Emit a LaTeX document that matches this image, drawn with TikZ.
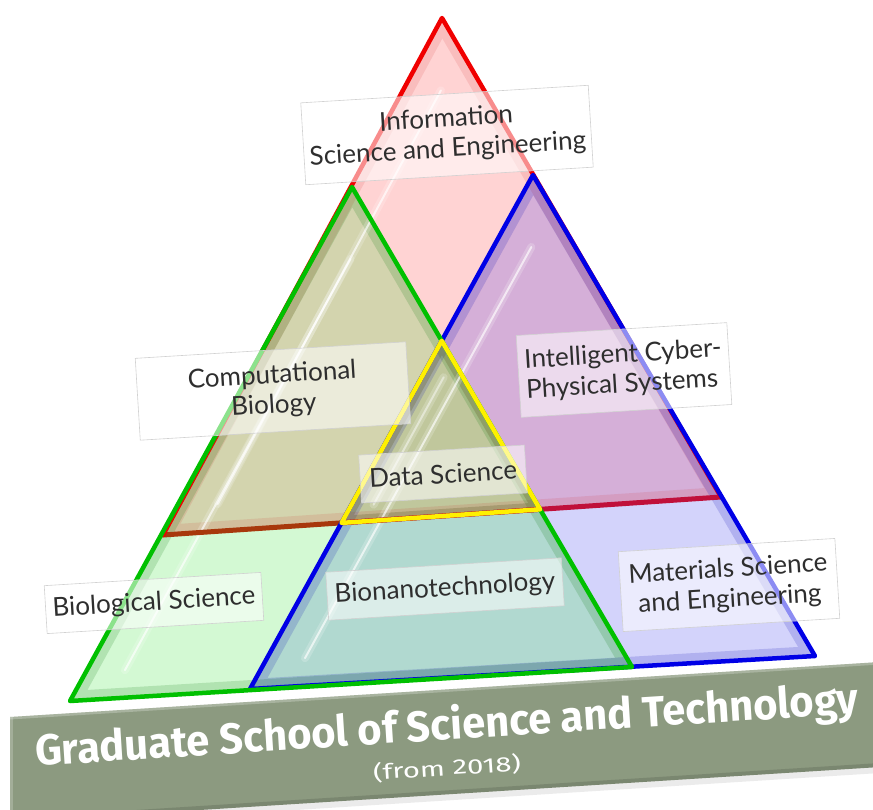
\documentclass[tikz,border=0pt]{standalone}
\usepackage{fontspec}
\setmainfont{Lato}
\newfontfamily\bannerfont{Fira Sans}
\usetikzlibrary{calc}

\definecolor{pinkR}{HTML}{FFD3D3}
\definecolor{greenG}{HTML}{D3F9D3}
\definecolor{lavB}{HTML}{D3D3FB}
\definecolor{tealGB}{HTML}{B1D9D0}
\definecolor{oliveRG}{HTML}{D3D4AE}
\definecolor{purpleRB}{HTML}{D5AFD8}
\definecolor{coreRGB}{HTML}{C0C79C}
\definecolor{edgeR}{HTML}{F00000}
\definecolor{edgeG}{HTML}{00C000}
\definecolor{edgeB}{HTML}{0000E6}
\definecolor{edgeY}{HTML}{FFF000}
\definecolor{baseRG}{HTML}{A8380C}
\definecolor{baseRB}{HTML}{C0103A}
\definecolor{bannercol}{HTML}{8C9A80}
\definecolor{labeltext}{HTML}{2E2E2E}

\begin{document}
\begin{tikzpicture}[x=1pt,y=-1pt,line join=round,line cap=round,
  lab/.style={fill=white,fill opacity=0.55,draw=black!18,line width=0.6pt,
    text opacity=1,text=labeltext,rotate=3.5,
    font=\fontsize{26}{30}\selectfont,align=center,inner sep=0pt},
  edge/.style={line width=4.5pt},
  band/.style={line width=20pt,opacity=0.16},
  gloss/.style={white,line width=2pt,opacity=0.65},
  glow/.style={white,line width=8pt,opacity=0.2},
  bannertext/.style={rotate=3.65,inner sep=0pt,text=white}]
\useasboundingbox (0,0) rectangle (873,809);

% corner points
\coordinate (R1) at (442,18);
\coordinate (R2) at (163,535);
\coordinate (R3) at (721,497);
\coordinate (G1) at (352,187);
\coordinate (G2) at (70,701);
\coordinate (G3) at (632,667);
\coordinate (B1) at (533,175);
\coordinate (B2) at (250,689);
\coordinate (B3) at (815,656);
\coordinate (Y1) at (intersection of G1--G3 and B1--B2);
\coordinate (Y2) at (intersection of B1--B2 and R2--R3);
\coordinate (Y3) at (intersection of G1--G3 and R2--R3);

% region fills
\fill[pinkR] (R1)--(R2)--(R3)--cycle;
\fill[greenG] (G1)--(G2)--(G3)--cycle;
\fill[lavB] (B1)--(B2)--(B3)--cycle;
\begin{scope}
  \clip (G1)--(G2)--(G3)--cycle;
  \fill[tealGB] (B1)--(B2)--(B3)--cycle;
\end{scope}
\begin{scope}
  \clip (R1)--(R2)--(R3)--cycle;
  \fill[oliveRG] (G1)--(G2)--(G3)--cycle;
  \fill[purpleRB] (B1)--(B2)--(B3)--cycle;
\end{scope}
\fill[coreRGB] (Y1)--(Y2)--(Y3)--cycle;

% bevel bands
\begin{scope}
  \clip (R1)--(R2)--(R3)--cycle;
  \draw[band,red!80!black,opacity=0.1] (R1)--(R2)--(R3)--cycle;
\end{scope}
\begin{scope}
  \clip (G1)--(G2)--(G3)--cycle;
  \draw[band,green!45!black] (G1)--(G2)--(G3)--cycle;
\end{scope}
\begin{scope}
  \clip (B1)--(B2)--(B3)--cycle;
  \draw[band,blue!70!black] (B1)--(B2)--(B3)--cycle;
\end{scope}
\begin{scope}
  \clip (Y1)--(Y2)--(Y3)--cycle;
  \draw[band,olive!60!black,line width=14pt,opacity=0.28] (Y1)--(Y2)--(Y3)--cycle;
\end{scope}

% glossy streaks
\foreach \A/\L in {R1/R2,G1/G2,B1/B2}{
  \draw[glow] ($(\A)!0.14!(\L)+(38,0)$) -- ($(\A)!0.94!(\L)+(38,0)$);
  \draw[gloss] ($(\A)!0.14!(\L)+(38,0)$) -- ($(\A)!0.94!(\L)+(38,0)$);
}
\draw[glow] ($(Y1)!0.2!(Y2)+(22,0)$) -- ($(Y1)!0.9!(Y2)+(22,0)$);
\draw[gloss,opacity=0.45] ($(Y1)!0.2!(Y2)+(22,0)$) -- ($(Y1)!0.9!(Y2)+(22,0)$);

% red base line (seen through green / blue)
\begin{scope}
  \clip (G1)--(G2)--(G3)--cycle;
  \draw[baseRG,edge,line width=5pt] (R2)--(R3);
\end{scope}
\begin{scope}
  \clip (B1)--(B2)--(B3)--cycle;
  \draw[baseRB,edge,line width=5pt] (R2)--(R3);
\end{scope}

% outlines
\draw[edgeR,edge] (R2)--(R1)--(R3);
\draw[edgeB,edge] (B1)--(B2)--(B3)--cycle;
\draw[edgeG,edge] (G1)--(G2)--(G3)--cycle;
\draw[edgeY,edge] (Y1)--(Y2)--(Y3)--cycle;

% labels
\node[lab,minimum width=288pt,minimum height=82pt] (info) at (447,135)
  {Information\\Science and Engineering};
\node[lab,minimum width=271pt,minimum height=82pt] (comp) at (273,391)
  {Computational\\Biology};
\node[lab,minimum width=211pt,minimum height=82pt,align=left] (icps) at (624,370)
  {Intelligent Cyber-\\Physical Systems};
\node[lab,minimum width=166pt,minimum height=48pt] (ds) at (443,474)
  {Data Science};
\node[lab,minimum width=217pt,minimum height=48pt] (bio) at (154,603)
  {Biological Science};
\node[lab,minimum width=236pt,minimum height=48pt] (bnt) at (445,589)
  {Bionanotechnology};
\node[lab,minimum width=217pt,minimum height=80pt] (mat) at (729,585)
  {Materials Science\\and Engineering};

% banner
\begin{scope}
  \clip (0,0) rectangle (873,809);
  \fill[black,opacity=0.08] (12,722)--(880,667)--(880,773)--(12,828)--cycle;
  \fill[bannercol] (10,717)--(880,662)--(880,767)--(10,822)--cycle;
  \clip (10,717)--(880,662)--(880,767)--(10,822)--cycle;
  \draw[white,opacity=0.25,line width=5pt] (10,717)--(880,662);
  \draw[white,opacity=0.2,line width=5pt] (10,717)--(10,822);
  \draw[black,opacity=0.12,line width=8pt] (10,822)--(880,767);
\end{scope}
\node[bannertext] (title) at (447,727)
  {\resizebox{825pt}{\height}{\bannerfont\bfseries\fontsize{43}{43}\selectfont
   Graduate School of Science and Technology}};
\node[bannertext] (sub) at (447,768)
  {\resizebox{148pt}{\height}{\bannerfont\fontsize{21}{21}\selectfont
   (from 2018)}};
\end{tikzpicture}
\end{document}
